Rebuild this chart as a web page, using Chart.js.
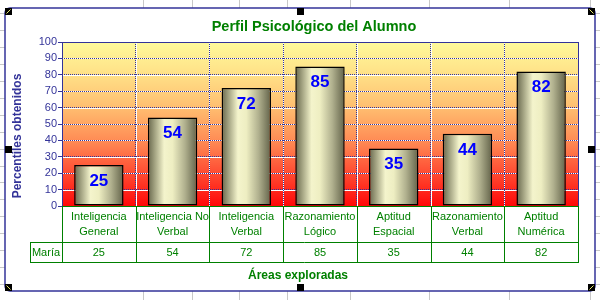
<!DOCTYPE html>
<html>
<head>
<meta charset="utf-8">
<script src="https://cdn.jsdelivr.net/npm/chart.js@4.4.0/dist/chart.umd.min.js"></script>
<style>
body { margin: 0; background: #fff; }
#wrap { width: 600px; height: 300px; }
</style>
</head>
<body>
<div id="wrap"><canvas id="perfil" width="600" height="300"></canvas></div>
<script>
// datos del grafico
var areas = [
    ['Inteligencia', 'General'],
    ['Inteligencia No', 'Verbal'],
    ['Inteligencia', 'Verbal'],
    ['Razonamiento', 'Lógico'],
    ['Aptitud', 'Espacial'],
    ['Razonamiento', 'Verbal'],
    ['Aptitud', 'Numérica']
];
var serieNombre = 'María';
var maria = [25, 54, 72, 85, 35, 44, 82];
var yMin = 0, yMax = 100, yPaso = 10;

var titulo = 'Perfil Psicológico del Alumno';
var tituloY = 'Percentiles obtenidos';
var tituloX = 'Áreas exploradas';

var FUENTE = "'Liberation Sans', Arial, sans-serif";
var AZUL_EJE = '#333399';
var VERDE = '#008000';

function barFill(c)
{
    var chart = c.chart;
    var xs = chart.scales.x;
    if (!chart.chartArea || !xs) return '#e0e0b0';
    var cx = xs.getPixelForValue(c.dataIndex);
    var w = (xs.width / areas.length) * 0.67;
    var g = chart.ctx.createLinearGradient(cx - w / 2, 0, cx + w / 2, 0);
    g.addColorStop(0, '#66664c');
    g.addColorStop(0.12, '#9a9a7a');
    g.addColorStop(0.33, '#f4f4cc');
    g.addColorStop(0.5, '#eeeec2');
    g.addColorStop(0.75, '#b0b08e');
    g.addColorStop(1, '#626249');
    return g;
}

function hline(ctx, x1, x2, y) {
    ctx.beginPath();
    ctx.moveTo(x1, Math.round(y) + 0.5);
    ctx.lineTo(x2, Math.round(y) + 0.5);
    ctx.stroke();
}
function vline(ctx, x, y1, y2) {
    ctx.beginPath();
    ctx.moveTo(Math.round(x) + 0.5, y1);
    ctx.lineTo(Math.round(x) + 0.5, y2);
    ctx.stroke();
}

// fondo: hoja de excel, marco y degradado del area de trazado
var fondo = {
    id: 'fondo',
    beforeDraw: function(chart)
    {
        var ctx = chart.ctx, a = chart.chartArea;
        ctx.save();
        ctx.fillStyle = '#fff';
        ctx.fillRect(0, 0, 600, 300);

        //celdas de excel por detras
        ctx.strokeStyle = '#c8c8c8';
        ctx.lineWidth = 1;
        [143, 192, 239, 287, 350, 429, 509, 590].forEach(function(x) { vline(ctx, x, 0, 300); });
        for (var y = 13; y < 300; y += 16.95) hline(ctx, 0, 600, y);

        //marco del grafico
        ctx.beginPath();
        ctx.roundRect(5, 8, 590, 283, 5);
        ctx.fillStyle = '#fff';
        ctx.fill();
        ctx.strokeStyle = AZUL_EJE;
        ctx.lineWidth = 1.5;
        ctx.stroke();

        //degradado
        var g = ctx.createLinearGradient(0, a.bottom, 0, a.top);
        g.addColorStop(0, 'rgb(255,8,8)');
        g.addColorStop(0.2, 'rgb(255,75,50)');
        g.addColorStop(0.4, 'rgb(255,140,85)');
        g.addColorStop(0.6, 'rgb(255,190,112)');
        g.addColorStop(0.8, 'rgb(255,224,135)');
        g.addColorStop(1, 'rgb(255,250,155)');
        ctx.fillStyle = g;
        ctx.fillRect(a.left, a.top, a.right - a.left, a.bottom - a.top);

        //lineas blancas bajo la rejilla punteada
        ctx.strokeStyle = '#fff';
        ctx.lineWidth = 1;
        var ys = chart.scales.y;
        ys.ticks.forEach(function(t) { hline(ctx, a.left, a.right, ys.getPixelForValue(t.value)); });
        var paso = (a.right - a.left) / areas.length;
        for (var i = 0; i <= areas.length; i++) vline(ctx, a.left + i * paso, a.top, a.bottom);
        ctx.restore();
    },
    afterDatasetsDraw: function(chart)
    {
        var ctx = chart.ctx;
        var meta = chart.getDatasetMeta(0);
        ctx.save();
        ctx.font = 'bold 17px ' + FUENTE;
        ctx.fillStyle = '#0000ff';
        ctx.textAlign = 'center';
        ctx.textBaseline = 'middle';
        meta.data.forEach(function(bar, i) {
            ctx.fillText(String(maria[i]), bar.x, bar.y + 16);
        });
        ctx.restore();
    },
    afterDraw: function(chart)
    {
        var ctx = chart.ctx, a = chart.chartArea;
        var paso = (a.right - a.left) / areas.length;
        ctx.save();

        //bordes del area de trazado
        ctx.lineWidth = 1;
        ctx.strokeStyle = AZUL_EJE;
        hline(ctx, a.left, a.right + 1, a.top);
        vline(ctx, a.right, a.top, a.bottom);
        vline(ctx, a.left, a.top, a.bottom);

        //tabla de datos
        var fila1 = a.bottom + 36, fila2 = a.bottom + 56, xLeyenda = 30;
        ctx.strokeStyle = VERDE;
        hline(ctx, a.left, a.right + 1, a.bottom);
        hline(ctx, xLeyenda, a.right + 1, fila1);
        hline(ctx, xLeyenda, a.right + 1, fila2);
        for (var i = 0; i <= areas.length; i++) vline(ctx, a.left + i * paso, a.bottom, fila2);
        vline(ctx, xLeyenda, fila1, fila2);

        ctx.fillStyle = VERDE;
        ctx.font = '11px ' + FUENTE;
        ctx.textAlign = 'center';
        ctx.textBaseline = 'middle';
        ctx.fillText(serieNombre, (xLeyenda + a.left) / 2, (fila1 + fila2) / 2 + 1);
        maria.forEach(function(v, i) {
            ctx.fillText(String(v), a.left + (i + 0.5) * paso, (fila1 + fila2) / 2 + 1);
        });

        //titulos
        ctx.font = 'bold 12px ' + FUENTE;
        ctx.fillText(tituloX, 298, 276);

        ctx.font = 'bold 14.5px ' + FUENTE;
        ctx.fillText(titulo, 314, 27);

        ctx.save();
        ctx.translate(18, 136);
        ctx.rotate(-Math.PI / 2);
        ctx.font = 'bold 12px ' + FUENTE;
        ctx.fillStyle = AZUL_EJE;
        ctx.fillText(tituloY, 0, 0);
        ctx.restore();

        //marcas de seleccion de excel
        var marcas = [[5, 8, '/'], [297, 8, ''], [588, 8, '\\'], [5, 146, ''], [588, 146, ''], [5, 284, '\\'], [297, 284, ''], [588, 284, '/']];
        marcas.forEach(function(m) {
            ctx.fillStyle = '#000';
            ctx.fillRect(m[0], m[1], 7, 7);
            if (m[2]) {
                ctx.strokeStyle = '#e8e870';
                ctx.beginPath();
                if (m[2] === '/') { ctx.moveTo(m[0] + 1.5, m[1] + 5.5); ctx.lineTo(m[0] + 5.5, m[1] + 1.5); }
                else { ctx.moveTo(m[0] + 1.5, m[1] + 1.5); ctx.lineTo(m[0] + 5.5, m[1] + 5.5); }
                ctx.stroke();
            }
        });
        ctx.restore();
    }
};

var ctx = document.getElementById('perfil');
new Chart(ctx, {
    type: 'bar',
    data: {
        labels: areas,
        datasets: [{
            label: serieNombre,
            data: maria,
            backgroundColor: barFill,
            borderColor: '#000',
            borderWidth: 1.5,
            borderSkipped: false,
            barPercentage: 0.67,
            categoryPercentage: 1
        }]
    },
    options: {
        responsive: false,
        animation: false,
        events: [],
        layout: { padding: { top: 42, right: 22, bottom: 0, left: 0 } },
        plugins: {
            legend: { display: false },
            title: { display: false },
            tooltip: { enabled: false }
        },
        scales: {
            x: {
                offset: true,
                grid: { color: AZUL_EJE, drawTicks: false, offset: true, borderDash: [1, 1] },
                border: { display: false, dash: [1, 1] },
                ticks: {
                    color: VERDE,
                    font: { family: FUENTE, size: 11, lineHeight: 15 / 11 },
                    padding: 3,
                    maxRotation: 0,
                    autoSkip: false
                },
                afterFit: function(s) { s.height = 94; }
            },
            y: {
                min: yMin,
                max: yMax,
                grid: { color: AZUL_EJE, tickColor: AZUL_EJE, tickLength: 4, borderDash: [1, 1] },
                border: { display: false, dash: [1, 1] },
                ticks: {
                    stepSize: yPaso,
                    color: AZUL_EJE,
                    font: { family: FUENTE, size: 11 },
                    padding: 1
                },
                afterFit: function(s) { s.width = 62; }
            }
        }
    },
    plugins: [fondo]
});
</script>
</body>
</html>
